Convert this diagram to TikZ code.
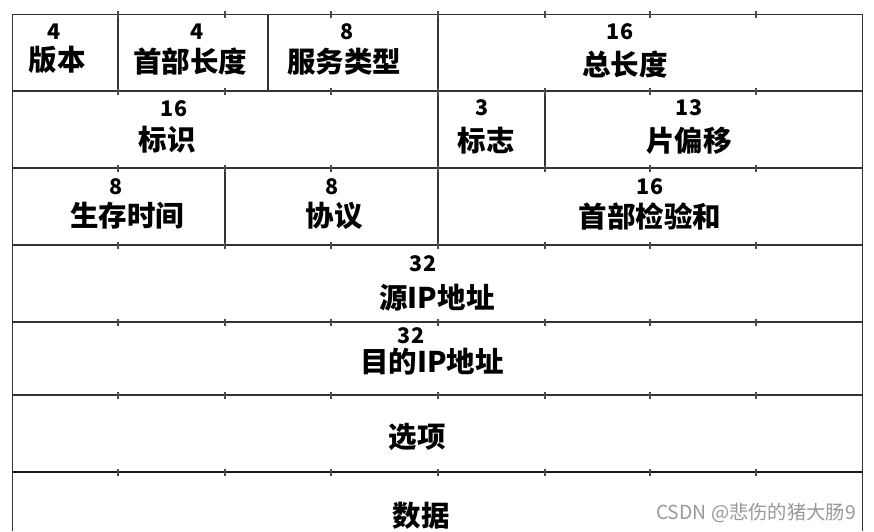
\documentclass[tikz,border=0pt]{standalone}
\usepackage{fontspec}
\setmainfont{Noto Sans CJK SC}
\begin{document}
\begin{tikzpicture}[x=1pt,y=-1pt,
  gridline/.style={line width=1.3pt, draw=black!80},
  thickline/.style={line width=2.6pt, draw=black!90},
  tickline/.style={line width=1.1pt, draw=black!70},
  num/.style={inner sep=0pt, font=\bfseries\fontsize{21.5}{21.5}\selectfont},
  lab/.style={inner sep=0pt, font=\bfseries\fontsize{28.5}{28.5}\selectfont},
  wmark/.style={inner sep=0pt, text=black!40, font=\fontsize{19.3}{19.3}\selectfont}]
\useasboundingbox (0,0) rectangle (874,531);
\fill[white] (0,0) rectangle (874,531);
% outer frame and row lines
\draw[gridline] (12.5,531) -- (12.5,14.5) -- (862.5,14.5) -- (862.5,531);
\foreach \y in {91,168,245,322,395} \draw[gridline] (12.5,\y) -- (862.5,\y);
\draw[thickline] (12.5,472) -- (862.5,472);
% cell dividers
\draw[gridline] (118,14.5) -- (118,91) (268,14.5) -- (268,91) (438,14.5) -- (438,91);
\draw[gridline] (438,91) -- (438,168) (545,91) -- (545,168);
\draw[gridline] (225,168) -- (225,245) (438,168) -- (438,245);
% ticks
\foreach \y in {14.5,91,168,245,322,395,472}
  \foreach \x in {118,225,331,438,545,650,756}
    \draw[tickline] (\x,\y-3.5) -- (\x,\y+3.5);
% row 1
\node[num] (n1) at (54,32) {4};
\node[lab] (t1) at (57,60) {版本};
\node[num] (n2) at (197,32) {4};
\node[lab] (t2) at (190,62) {首部长度};
\node[num] (n3) at (347,32) {8};
\node[lab] (t3) at (344,62) {服务类型};
\node[num] (n4) at (620,32) {16};
\node[lab] (t4) at (625,65) {总长度};
% row 2
\node[num] (n5) at (174,109) {16};
\node[lab] (t5) at (167,140) {标识};
\node[num] (n6) at (482,108) {3};
\node[lab] (t6) at (486,141) {标志};
\node[num] (n7) at (689,108) {13};
\node[lab] (t7) at (689,141) {片偏移};
% row 3
\node[num] (n8) at (116,187) {8};
\node[lab] (t8) at (127,216) {生存时间};
\node[num] (n9) at (332,187) {8};
\node[lab] (t9) at (334,216) {协议};
\node[num] (n10) at (650,187) {16};
\node[lab] (t10) at (650,216) {首部检验和};
% rows 4-7
\node[num] (n11) at (423,264) {32};
\node[lab] (t11) at (437,298) {源IP地址};
\node[num] (n12) at (411,336) {32};
\node[lab] (t12) at (432,362) {目的IP地址};
\node[lab] (t13) at (417,437) {选项};
\node[lab] (t14) at (421,516) {数据};
\node[wmark] (wm) at (756,513) {CSDN @悲伤的猪大肠9};
\end{tikzpicture}
\end{document}
